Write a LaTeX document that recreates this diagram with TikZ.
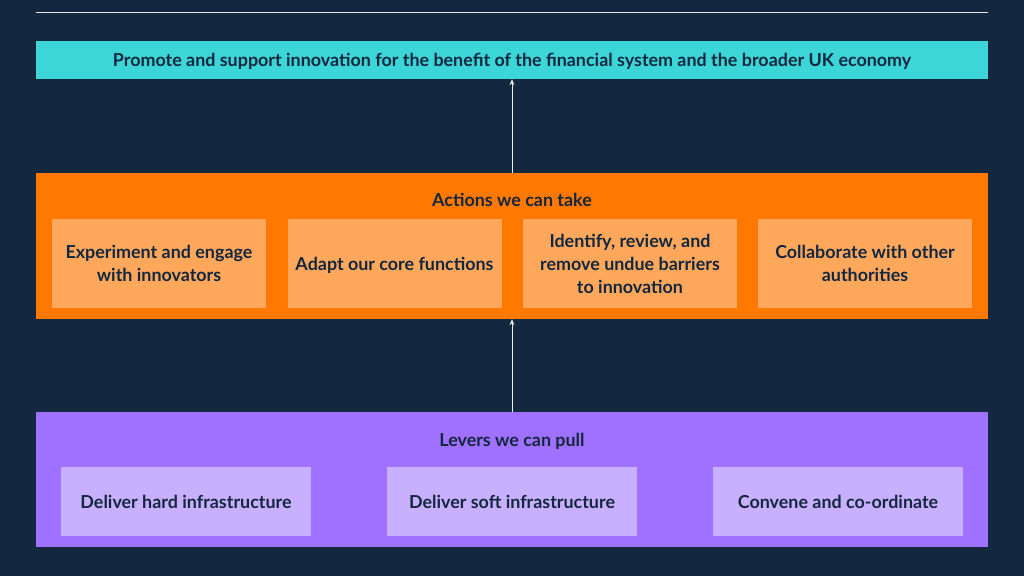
\documentclass[tikz,border=0pt]{standalone}
\usepackage{fontspec}
\setmainfont{Lato}
\usetikzlibrary{arrows.meta}
\definecolor{bg}{HTML}{13273F}
\definecolor{cyanb}{HTML}{3DD6D8}
\definecolor{orb}{HTML}{FF7800}
\definecolor{orin}{HTML}{FFA85C}
\definecolor{pub}{HTML}{A070FF}
\definecolor{puin}{HTML}{C9B0FF}
\definecolor{txt}{HTML}{13273F}
\begin{document}
\begin{tikzpicture}[x=1pt,y=-1pt,
  box/.style={draw=none,inner sep=0pt,font=\bfseries\fontsize{17.9}{23}\selectfont,text=txt,align=center},
  arr/.style={draw=white!85!gray,line width=0.9pt,-{Stealth[length=6pt,width=5pt]}}]
\useasboundingbox[fill=bg] (0,0) rectangle (1024,576);
\draw[white!80!gray,line width=0.8pt] (36,12) -- (988,12);
\node[box,fill=cyanb,minimum width=952pt,minimum height=38pt] (goal) at (512,60) {};
\node[box] (goalt) at (512,61.5) {Promote and support innovation for the benefit of the financial system and the broader UK economy};
\node[box,fill=orb,minimum width=952pt,minimum height=146pt] (act) at (512,246) {};
\node[box] (actt) at (512,200) {Actions we can take};
\foreach \n/\x/\t in {a1/159/{Experiment and engage\\with innovators},a2/394.5/{Adapt our core functions},a3/630/{Identify, review, and\\remove undue barriers\\to innovation},a4/865/{Collaborate with other\\authorities}}
  \node[box,fill=orin,minimum width=214pt,minimum height=89pt,text depth=0pt] (\n) at (\x,263.5) {\t};
\node[box,fill=pub,minimum width=952pt,minimum height=135pt] (lev) at (512,479.5) {};
\node[box] (levt) at (512,441) {Levers we can pull};
\foreach \n/\x/\t in {l1/186/{Deliver hard infrastructure},l2/512/{Deliver soft infrastructure},l3/838/{Convene and co-ordinate}}
  \node[box,fill=puin,minimum width=250pt,minimum height=69pt,text depth=0pt] (\n) at (\x,501.5) {\t};
\draw[arr] (act.north) -- (goal.south);
\draw[arr] (lev.north) -- (act.south);
\end{tikzpicture}
\end{document}
